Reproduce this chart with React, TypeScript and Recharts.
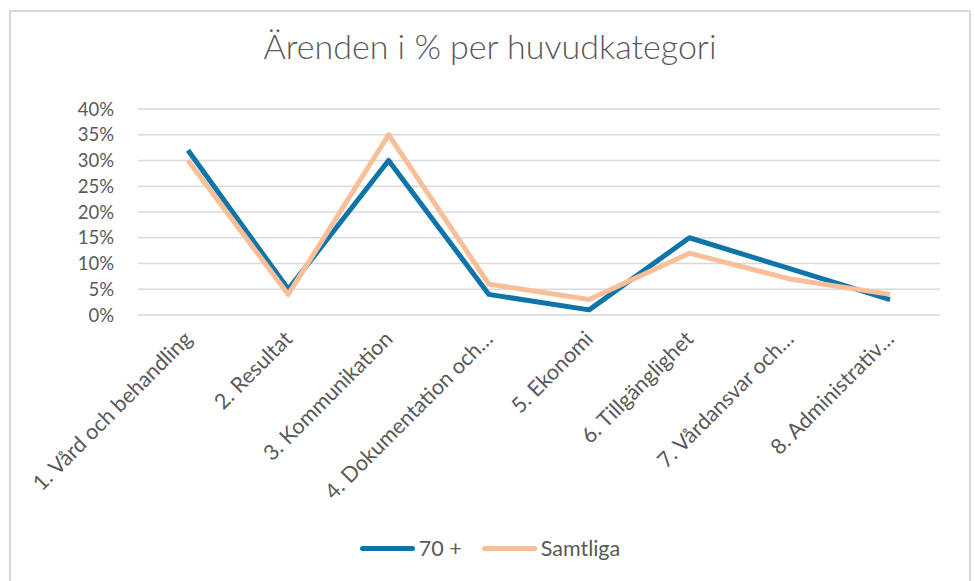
import React from 'react';
import { LineChart, Line, XAxis, YAxis, CartesianGrid, Legend } from 'recharts';

const FONT = 'Lato, "Open Sans", sans-serif';
const TEXT_COLOR = '#595959';

const categories = [
    '1. Vård och behandling',
    '2. Resultat',
    '3. Kommunikation',
    '4. Dokumentation och…',
    '5. Ekonomi',
    '6. Tillgänglighet',
    '7. Vårdansvar och…',
    '8. Administrativ…'
];
const seniorValues = [32, 5, 30, 4, 1, 15, 9, 3];
const allValues = [30, 4, 35, 6, 3, 12, 7, 4];
const yTicks = [0, 5, 10, 15, 20, 25, 30, 35, 40];

const data = categories.map((name, i) => ({
    name,
    senior: seniorValues[i],
    all: allValues[i]
}));

const AngledTick = ({ x, y, payload }: any) => (
    <g transform={`translate(${x},${y})`}>
        <text
            x={0}
            y={0}
            dy="0.35em"
            textAnchor="end"
            transform="rotate(-45)"
            fill={TEXT_COLOR}
            fontSize={21.5}
            fontFamily={FONT}
        >
            {payload.value}
        </text>
    </g>
);

const renderLegend = (props: any) => {
    const { payload } = props;
    return (
        <div style={{ display: 'flex', justifyContent: 'center', alignItems: 'center', height: 30, gap: 20 }}>
            {payload.map((entry: any) => (
                <div key={entry.value} style={{ display: 'flex', alignItems: 'center' }}>
                    <span
                        style={{
                            display: 'inline-block',
                            width: 55,
                            height: 5,
                            borderRadius: 3,
                            background: entry.color,
                            marginRight: 4
                        }}
                    />
                    <span style={{ color: TEXT_COLOR, fontSize: 21.5, fontFamily: FONT }}>{entry.value}</span>
                </div>
            ))}
        </div>
    );
};

export default function App() {
    return (
        <div style={{ position: 'absolute', left: 0, top: 0, width: 975, height: 581, background: '#fff', overflow: 'hidden' }}>
            <div
                style={{
                    position: 'absolute',
                    left: 9,
                    top: 10,
                    width: 958,
                    height: 600,
                    border: '2px solid #d9d9d9'
                }}
            />
            <div
                style={{
                    position: 'absolute',
                    left: 0,
                    width: 980,
                    top: 24,
                    lineHeight: '44px',
                    textAlign: 'center',
                    fontFamily: FONT,
                    fontWeight: 300,
                    fontSize: 34,
                    color: TEXT_COLOR
                }}
            >
                Ärenden i % per huvudkategori
            </div>
            <LineChart
                width={975}
                height={581}
                data={data}
                margin={{ top: 109, right: 35, left: 0, bottom: 0 }}
                style={{ position: 'absolute', left: 0, top: 0 }}
            >
                <CartesianGrid vertical={false} stroke="#d9d9d9" strokeWidth={1.5} />
                <XAxis
                    dataKey="name"
                    axisLine={false}
                    tickLine={false}
                    interval={0}
                    height={236}
                    tickMargin={14}
                    padding={{ left: 50, right: 50 }}
                    tick={<AngledTick />}
                />
                <YAxis
                    width={138}
                    domain={[0, 40]}
                    ticks={yTicks}
                    interval={0}
                    axisLine={false}
                    tickLine={false}
                    tickMargin={18}
                    tickFormatter={(v: number) => `${v}%`}
                    tick={{ fill: TEXT_COLOR, fontSize: 18.5, fontFamily: FONT }}
                />
                <Legend
                    verticalAlign="bottom"
                    align="center"
                    content={renderLegend}
                    wrapperStyle={{ left: 0, width: 980, bottom: 18 }}
                />
                <Line
                    name="70 +"
                    dataKey="senior"
                    stroke="#0F75A8"
                    strokeWidth={5}
                    dot={false}
                    strokeLinejoin="round"
                    isAnimationActive={false}
                />
                <Line
                    name="Samtliga"
                    dataKey="all"
                    stroke="#F9BF99"
                    strokeWidth={5}
                    dot={false}
                    strokeLinejoin="round"
                    isAnimationActive={false}
                />
            </LineChart>
        </div>
    );
}
